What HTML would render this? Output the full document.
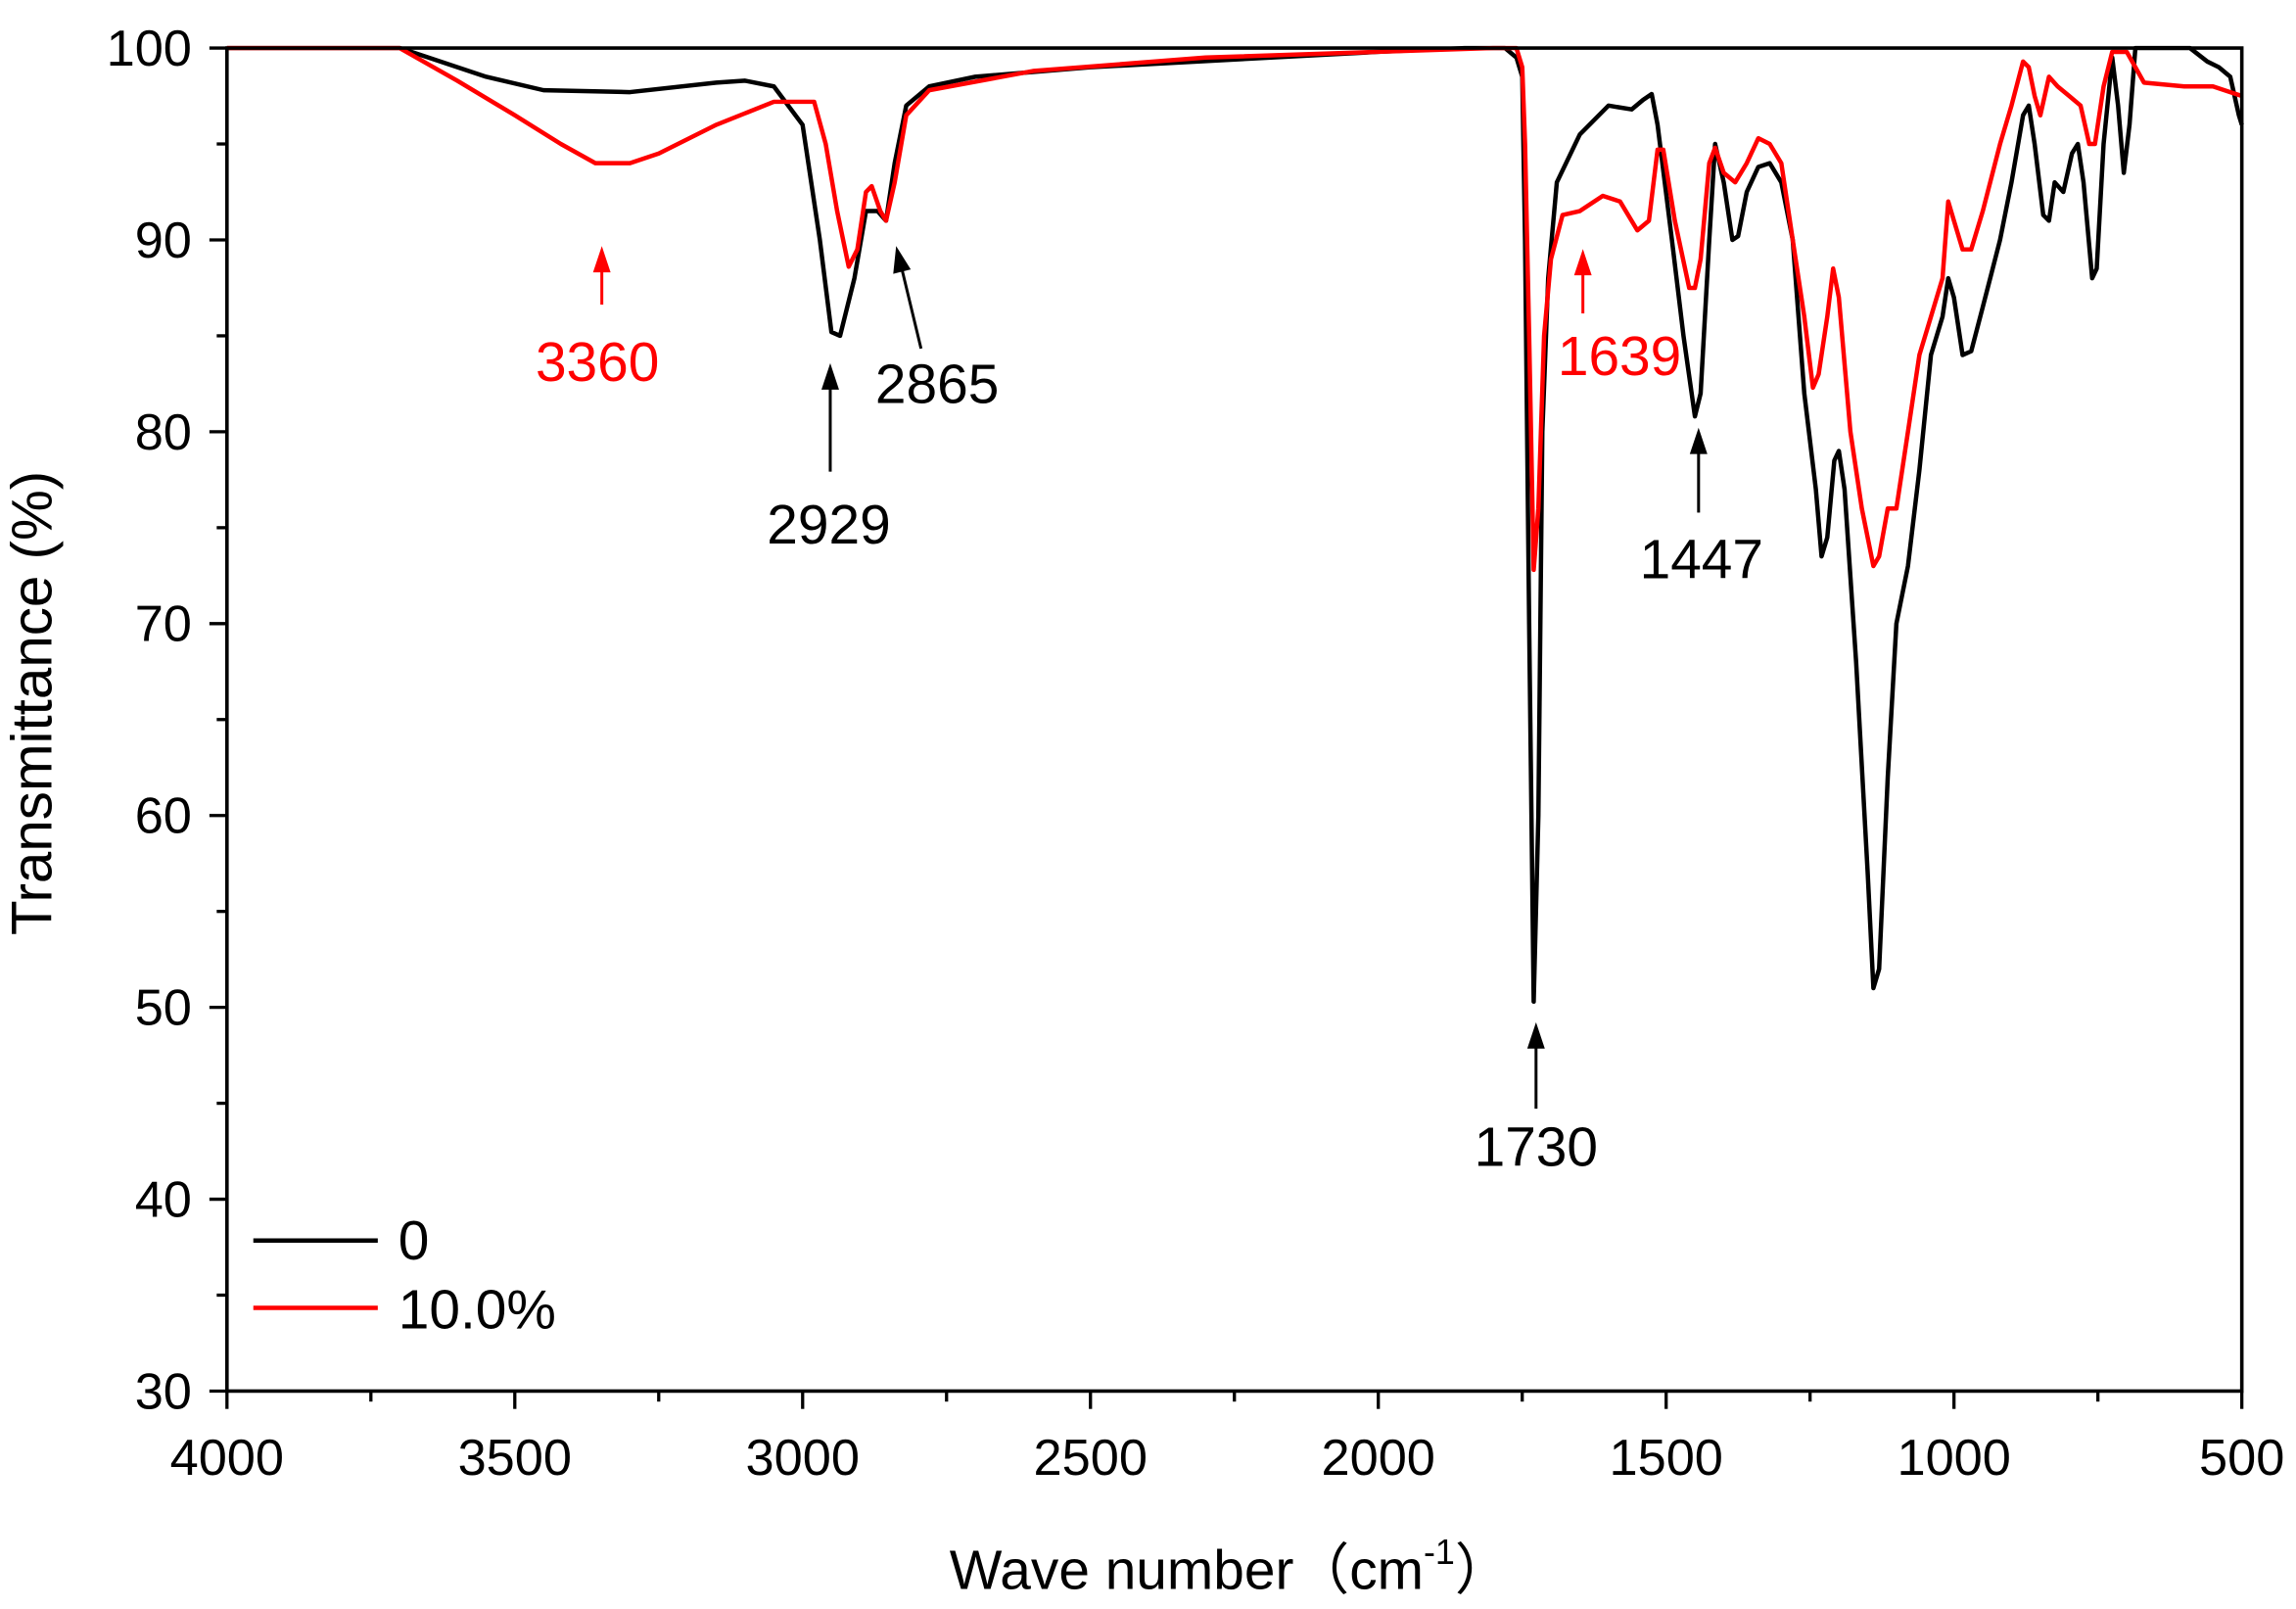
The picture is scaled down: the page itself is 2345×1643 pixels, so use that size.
<!DOCTYPE html>
<html><head><meta charset="utf-8"><style>html,body{margin:0;padding:0;background:#fff}svg{display:block}text{font-family:"Liberation Sans","Noto Sans CJK SC",sans-serif}</style></head>
<body>
<svg id="s" width="2345" height="1643" viewBox="0 0 1568 1098.6" xmlns="http://www.w3.org/2000/svg">
<g id="ticks" stroke="#000" stroke-width="2.2"></g>
<polyline id="black" fill="none" stroke="#000" stroke-width="3" stroke-linejoin="round"/>
<polyline id="red" fill="none" stroke="#f00" stroke-width="3" stroke-linejoin="round"/>
<rect x="155" y="32.8" width="1376" height="917" fill="none" stroke="#000" stroke-width="2.4"/>
<g id="labels" font-size="35" fill="#000"></g>
<text x="35" y="480" font-size="39" text-anchor="middle" transform="rotate(-90 35 480)">Transmittance (%)</text>
<text x="840" y="1085" font-size="38" text-anchor="middle">Wave number（cm<tspan font-size="24" dy="-17">-1</tspan><tspan dy="17">）</tspan></text>
<g font-size="38">
<text x="408" y="260" fill="#f00" text-anchor="middle">3360</text>
<line x1="411" y1="208" x2="411" y2="184" stroke="#f00" stroke-width="2"/><path d="M405,186 L411,168 L417,186 Z" fill="#f00"/>
<text x="566" y="371" text-anchor="middle">2929</text>
<line x1="567" y1="322" x2="567" y2="264" stroke="#000" stroke-width="2"/><path d="M561,266 L567,248 L573,266 Z" fill="#000"/>
<text x="640" y="275" text-anchor="middle">2865</text>
<line x1="629" y1="238" x2="616" y2="184" stroke="#000" stroke-width="2"/><path d="M610,187 L612,168 L622,184 Z" fill="#000"/>
<text x="1049" y="796" text-anchor="middle">1730</text>
<line x1="1049" y1="757" x2="1049" y2="714" stroke="#000" stroke-width="2"/><path d="M1043,716 L1049,698 L1055,716 Z" fill="#000"/>
<text x="1106" y="256" fill="#f00" text-anchor="middle">1639</text>
<line x1="1081" y1="214" x2="1081" y2="186" stroke="#f00" stroke-width="2"/><path d="M1075,188 L1081,170 L1087,188 Z" fill="#f00"/>
<text x="1162" y="395" text-anchor="middle">1447</text>
<line x1="1160" y1="350" x2="1160" y2="308" stroke="#000" stroke-width="2"/><path d="M1154,310 L1160,292 L1166,310 Z" fill="#000"/>
</g>
<line x1="173" y1="847" x2="258" y2="847" stroke="#000" stroke-width="3"/>
<text x="272" y="860" font-size="38">0</text>
<line x1="173" y1="893" x2="258" y2="893" stroke="#f00" stroke-width="3"/>
<text x="272" y="907" font-size="38">10.0%</text>
</svg>
<script>
var X=function(w){return 155+(4000-w)/3500*1376},Y=function(t){return 32.8+(100-t)/70*917};
var B=[4000,100,3700,100,3650,99.5,3550,98.5,3450,97.8,3300,97.7,3150,98.2,3100,98.3,3050,98,3000,96,2970,90,2950,85.2,2935,85,2910,88,2890,91.5,2870,91.5,2855,91,2840,94,2820,97,2780,98,2700,98.5,2500,99,2000,99.8,1850,100,1780,100,1760,99.5,1750,98.5,1745,90,1738,70,1730,50.3,1722,60,1715,80,1705,88,1690,93,1650,95.5,1600,97,1560,96.8,1540,97.3,1525,97.6,1515,96,1490,90,1470,85,1450,80.8,1440,82,1425,90,1415,95,1400,93,1385,90,1375,90.2,1360,92.5,1340,93.8,1320,94,1300,93,1280,90,1260,82,1240,77,1230,73.5,1220,74.5,1208,78.5,1200,79,1190,77,1170,68,1150,57,1140,51,1130,52,1115,62,1100,70,1080,73,1060,78,1040,84,1020,86,1010,88,1000,87,985,84,970,84.2,950,86.5,920,90,900,93,880,96.5,870,97,860,95,845,91.3,835,91,825,93,810,92.5,795,94.5,785,95,775,93,760,88,752,88.5,740,95,725,99.5,715,97,705,93.5,695,96,685,100,670,100,590,100,560,99.3,540,99,520,98.5,505,96.5,500,96];
var R=[4000,100,3700,100,3600,98.3,3500,96.5,3420,95,3360,94,3300,94,3250,94.5,3150,96,3050,97.2,2980,97.2,2960,95,2940,91.5,2920,88.6,2905,89.5,2890,92.5,2880,92.8,2865,91.5,2855,91,2840,93,2820,96.5,2780,97.8,2600,98.8,2300,99.5,2000,99.8,1800,100,1760,100,1750,99,1745,95,1738,85,1730,72.8,1722,76,1712,85,1700,89,1680,91.3,1650,91.5,1610,92.3,1580,92,1550,90.5,1530,91,1515,94.7,1505,94.7,1485,91,1460,87.5,1450,87.5,1440,89,1425,94,1415,94.8,1400,93.5,1380,93,1360,94,1340,95.3,1320,95,1300,94,1280,90,1260,86,1245,82.3,1235,83,1220,86,1210,88.5,1200,87,1180,80,1160,76,1140,73,1130,73.5,1115,76,1100,76,1080,80,1060,84,1040,86,1020,88,1010,92,1000,91,985,89.5,970,89.5,950,91.5,920,95,900,97,880,99.3,870,99,860,97.5,850,96.5,835,98.5,820,98,800,97.5,780,97,765,95,755,95,740,98,725,99.8,700,99.8,685,99,670,98.2,600,98,550,98,520,97.7,500,97.5];
function pts(a){var s=[];for(var i=0;i<a.length;i+=2)s.push(X(a[i]).toFixed(1)+","+Y(a[i+1]).toFixed(1));return s.join(" ")}
document.getElementById("black").setAttribute("points",pts(B));
document.getElementById("red").setAttribute("points",pts(R));
var t="",l="";
for(var v=30;v<=100;v+=5){var y=Y(v),len=(v%10==0)?12:7;t+='<line x1="'+(155-len)+'" y1="'+y+'" x2="155" y2="'+y+'"/>';if(v%10==0)l+='<text x="131" y="'+(y+12)+'" text-anchor="end">'+v+'</text>';}
for(var w=500;w<=4000;w+=250){var x=X(w),len=(w%500==0)?12:7;t+='<line x1="'+x+'" y1="950" x2="'+x+'" y2="'+(950+len)+'"/>';if(w%500==0)l+='<text x="'+x+'" y="1007" text-anchor="middle">'+w+'</text>';}
document.getElementById("ticks").innerHTML=t;document.getElementById("labels").innerHTML=l;
</script>
</body></html>
